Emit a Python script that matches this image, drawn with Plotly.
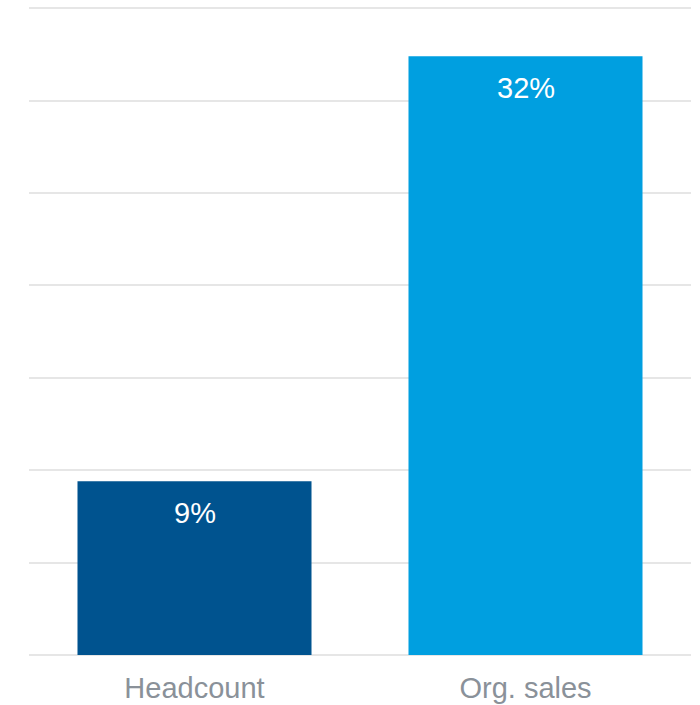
import plotly.graph_objects as go

categories = ["Headcount", "Org. sales"]
values = [9.4, 32.4]
labels = ["9%", "32%"]
colors = ["#00538f", "#009fe0"]

fig = go.Figure()
fig.add_trace(go.Bar(
    x=categories, y=values,
    marker=dict(color=colors, line=dict(width=0)),
    hoverinfo="skip",
))

for c, v, t in zip(categories, values, labels):
    fig.add_annotation(
        x=c, y=v, text=t, showarrow=False,
        yanchor="top", yshift=-14,
        font=dict(family="Liberation Sans, Arial, sans-serif", size=29, color="white"),
    )

fig.update_layout(
    width=700, height=705,
    margin=dict(l=29, r=9, t=7, b=50),
    paper_bgcolor="white", plot_bgcolor="white",
    bargap=0.293,
    showlegend=False,
    xaxis=dict(
        showgrid=False, showline=False, ticks="",
        ticklabelstandoff=13, automargin=False,
        tickfont=dict(family="Liberation Sans, Arial, sans-serif", size=29, color="#8a9199"),
    ),
    yaxis=dict(
        range=[0, 35.06], tickvals=[0, 5, 10, 15, 20, 25, 30, 35], showticklabels=False,
        showgrid=True, gridcolor="#e6e6e6", gridwidth=2,
        zeroline=True, zerolinecolor="#e6e6e6", zerolinewidth=2,
        showline=False, ticks="", automargin=False,
    ),
)

fig.write_html("out.html")
